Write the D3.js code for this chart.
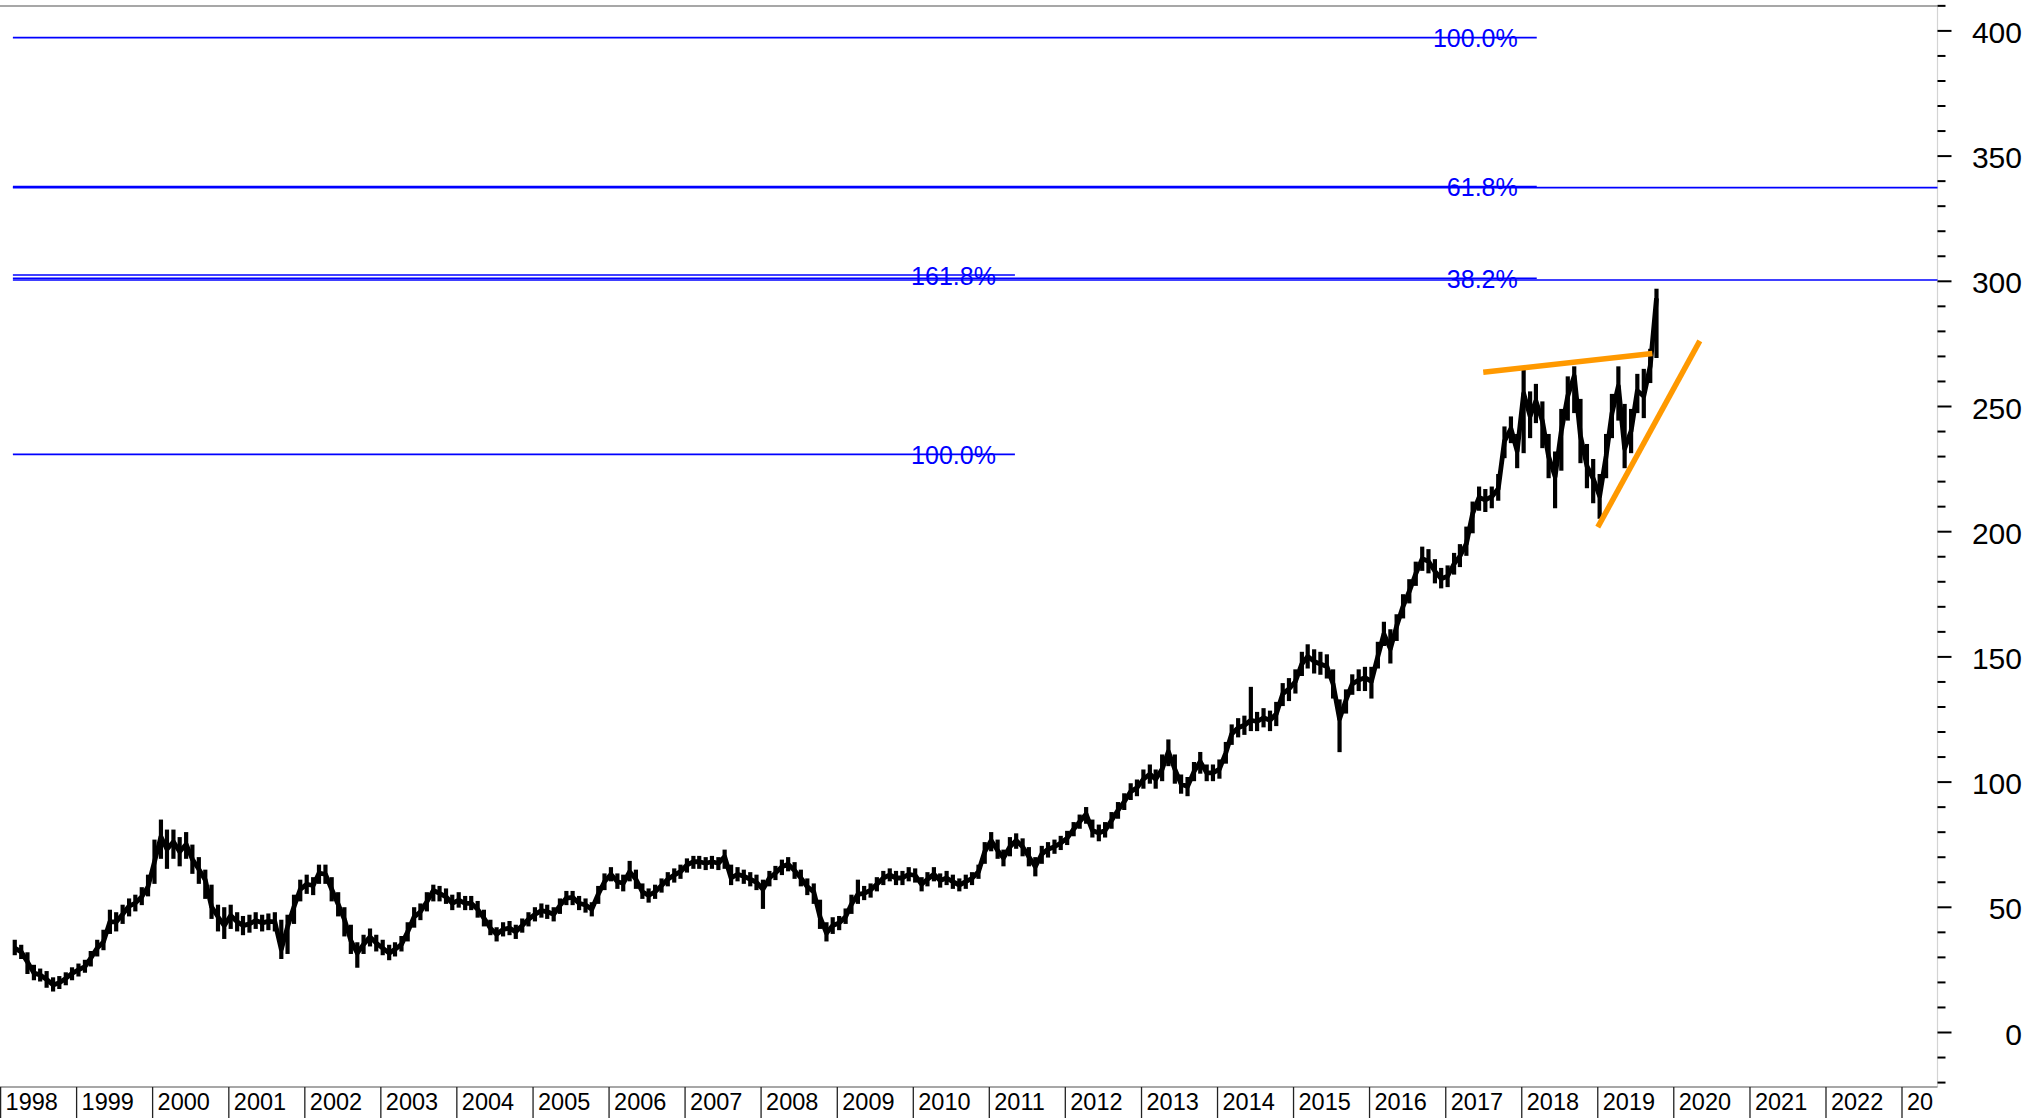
<!DOCTYPE html>
<html>
<head>
<meta charset="utf-8">
<script src="https://cdn.jsdelivr.net/npm/d3@7"></script>
<style>
  html, body { margin: 0; padding: 0; background: #ffffff; }
  svg { display: block; }
  text { font-family: "Liberation Sans", Arial, Helvetica, sans-serif; }
</style>
</head>
<body>
<svg id="chart" width="2042" height="1118"></svg>
<script>
// ---------------- DATA ----------------
const firstMonth = "1998-03";
// monthly close / high / low
const closes = [
  33.5,32,28,23.5,22.8,21,18.8,19.7,21.4,23.4,                    // 1998 Mar-Dec
  24.8,26.1,29.5,33.5,36,44,44,47,50.3,51.5,54,58,                // 1999
  68,78,73,76,72,75,69,65,60.7,50,46,42.5,                        // 2000
  46.5,44,42.5,43.2,44.5,43.6,44.2,44,33,42,50,57,                // 2001
  59,58.5,63.4,63,57,51,45,36.5,31.5,35,38,35.5,                  // 2002
  33.5,31.5,33,35,40,46,48,52,56.5,55.4,54,51.4,                  // 2003
  52.7,51.4,51.4,49,45.5,41.5,39,41,41.5,40,42.5,45,              // 2004
  47,48.5,48,47,50.5,53.5,53.8,51.4,50.7,49,55,60,                // 2005
  63,60,59.4,64,61,56,54.5,56,58.5,61,62.7,64,                    // 2006
  66.7,68,68,67.4,68,67.4,70,61.5,63,62.2,61,59.8,                // 2007
  57,61.5,63.5,66,67,64.5,61.5,58,56,46,39.5,42.5,                // 2008
  43.5,46,51,55,55.4,56.7,59,61.5,62.7,61.5,61.5,63,              // 2009
  62.5,59,61,63,60.5,61.5,60,58.7,60,61.4,64,72,                  // 2010
  76.5,72.5,69.5,74,76.5,74,70,66,71,73,74,75.5,                  // 2011
  77.4,81,84,87,80.5,79.5,80.5,84.5,88.5,92,96,97.5,              // 2012
  101,103,101,105,112,105,99,98,104,108,103.5,103.5,              // 2013
  105,111.5,119,121.5,122.5,124.5,124,125.5,124.5,127,135,137,    // 2014
  140,147,150,148,147,146,139,125,132.6,139,140.6,141.5,          // 2015
  140,150,159,153,162,170,176,183,189,188,184,181,                // 2016
  182,187,190,195,207,213.5,212.5,213.8,217,236,241,232,          // 2017
  255,246,252,244,229.8,221.8,240,254,262,238,226,221,            // 2018
  214,230,247,258,233,240,256,254,266,293                         // 2019 Jan-Oct
];
const highs = [
  36,34,31,26,24.5,23.5,21,21.5,23,25,
  26.5,28,31.5,36,40,48,47,50,52.5,54,57,62,
  76,84,80,80,77,79,74,69,64,58,50,49,
  50,47,45.5,46,47,46,46.5,47,44,46,54,60,
  62,61,66,66,61,55,49,42,35,38,40.5,38,
  36,34,35,37.5,43,49,50.5,55,58,57.5,56.5,54,
  55,53.5,53.5,51.5,48,44,41,43,43.5,42,44.5,47,
  49,50.5,50,49,52.5,55.5,55.5,53.5,52.5,51,57.5,62.5,
  65,62.5,62,67.5,64,58.5,56.5,58,60.5,63,64.5,66,
  68.5,69.5,69.5,69,69.5,69,72,66,65,64,63,62,
  60,63.5,65.5,68,69,67,64,60.5,58.5,52,43,45,
  45.5,48.5,54,60,57.5,58.5,61,63.5,64.5,63.5,63.5,65,
  64.5,61,63,65,62.5,63.5,62,60.5,62,63,66,75,
  79,76,72,77,78.5,76.5,73,69,73.5,75,76,77.5,
  79.5,83,86,89,84,82,83,87,91,94.5,98.5,100,
  104,106,104,110,116,110,102,101,107,111,106,106,
  108,115,122,124.5,125.5,137,127,128.5,127.5,131,138.5,140.5,
  144,151,154,152,151,150,144,132,136,142,144,145,
  145,155,163,160,166,174,180,187,193,192,188,184.5,
  185.5,190.5,194,201,211,217,216,217,222,241,245,238,
  264,255,258,251,238,231,248,261,265,252,234,228,
  222,238,254,265,250,248,262,264,272,296
];
const lows = [
  31.5,30,24,21.5,21,18.5,17,18,19.5,21.5,
  23,24.5,27,31,33.5,40,41,44,47,49,51.5,55,
  60,70,66,70,67,70,64,60,54,46,41,38,
  42,41,39.5,40.5,42,41,41.5,41,30,32,44,53,
  56,55.5,60,60,53,47,39,32,26.5,32,35,33,
  31.5,29.5,31,33,37,42.5,45.5,49,53,53,52,49.5,
  50.5,49.5,49.5,46.5,43,39.5,37,39,39.5,38,40.5,43,
  45,46.5,46,45,48,51.5,51.5,49.5,48.5,47,52,57.5,
  61,58,57,61,58,54,52.5,54,56.5,59,60.5,62,
  64.5,66,66,65.5,66,65.5,66,59.5,61,60,59,57.5,
  50,59,61.5,63.5,65,62,59,55.5,52,42,37,40,
  41.5,44,48,52,53.5,54.5,57,59.5,61,59.5,59.5,61,
  60.5,57,59,61,58.5,59.5,58,57,58,59.5,62,68,
  73,70,67,71,74,71,67,63,68,70.5,72,73.5,
  75.5,79,82,84,78.5,77,78.5,82,86,89.5,93.5,95,
  98,100,98,101,107,100,96,95,101,104,101,101,
  102,108,115.5,118.5,119.5,121,121,122.5,121,123,131,133,
  136,143,146,144,143.5,142,134,112.6,128,135.5,137,137,
  134,146,155,148,157,166,172,179,185,184,180,178,
  178.5,183.5,186.5,191,200,209,208.5,210,213,230,236,226,
  232,238,244,234,222,210,225,245,248,228,218,212,
  205.8,222,238,245,226,232,248,246,260,270
];

// axis ticks
const yearLabels = ["1998","1999","2000","2001","2002","2003","2004","2005","2006","2007","2008","2009",
  "2010","2011","2012","2013","2014","2015","2016","2017","2018","2019","2020","2021","2022","2023"];
const priceTicks = [0,50,100,150,200,250,300,350,400];
const priceMinorTicks = [-20,-10,10,20,30,40,60,70,80,90,110,120,130,140,160,170,180,190,210,220,230,240,
  260,270,280,290,310,320,330,340,360,370,380,390,410];

// Fibonacci levels
const fibStart = "1998-03-01";
const fibValues = [230.7, 302.3, 397.1, 337.6, 301.0, 337.2, 300.3];
const fibLabels = ["100.0%", "161.8%", "100.0%", "61.8%", "38.2%", "", ""];
const fibEnds = ["2011-05-04","2011-05-04","2018-03-14","2018-03-14","2018-03-14","2023-12-31","2023-12-31"];

// orange trend lines
const trendStartDates = ["2017-06-30", "2019-01-01"];
const trendStartValues = [263.5, 201.6];
const trendEndDates = ["2019-09-20", "2020-05-05"];
const trendEndValues = [271.0, 276.0];

// ---------------- LAYOUT ----------------
const W = 2042, H = 1118;
const plotLeft = 0, plotRight = 1937.5, plotTop = 6, plotBottom = 1087;

const svg = d3.select("#chart");
svg.append("rect").attr("width", W).attr("height", H).attr("fill", "#ffffff");

const parse = d3.timeParse("%Y-%m-%d");
const x = d3.scaleTime()
  .domain([new Date(1998, 0, 1), new Date(2023, 0, 1)])
  .range([0.6, 1902]);
const y = d3.scaleLinear().domain([0, 400]).range([1032, 30.4]);

const defs = svg.append("defs");
defs.append("clipPath").attr("id", "plotClip")
  .append("rect").attr("x", plotLeft).attr("y", plotTop)
  .attr("width", plotRight - plotLeft).attr("height", plotBottom - plotTop);
defs.append("clipPath").attr("id", "xClip")
  .append("rect").attr("x", 0).attr("y", plotBottom)
  .attr("width", 1934).attr("height", H - plotBottom);

// frame
svg.append("line").attr("x1", plotLeft).attr("x2", plotRight).attr("y1", plotTop).attr("y2", plotTop)
  .attr("stroke", "#8a8a8a").attr("stroke-width", 1.6);
svg.append("line").attr("x1", plotRight).attr("x2", plotRight).attr("y1", plotTop).attr("y2", plotBottom)
  .attr("stroke", "#d4d4d4").attr("stroke-width", 1.2);
svg.append("line").attr("x1", plotLeft).attr("x2", plotRight).attr("y1", plotBottom).attr("y2", plotBottom)
  .attr("stroke", "#8a8a8a").attr("stroke-width", 1.6);

// ---------------- Y AXIS (right) ----------------
const yAxisG = svg.append("g");
const yMajor = d3.axisRight(y).tickValues(priceTicks).tickSize(14).tickPadding(0).tickFormat("");
const yMinor = d3.axisRight(y).tickValues(priceMinorTicks).tickSize(8).tickFormat("");
yAxisG.append("g").attr("transform", `translate(${plotRight},0)`).call(yMinor)
  .call(g => g.select(".domain").remove())
  .call(g => g.selectAll(".tick line").attr("stroke", "#000").attr("stroke-width", 2));
yAxisG.append("g").attr("transform", `translate(${plotRight},0)`).call(yMajor)
  .call(g => g.select(".domain").remove())
  .call(g => g.selectAll(".tick line").attr("stroke", "#000").attr("stroke-width", 2));
yAxisG.selectAll("text.ylab").data(priceTicks).enter().append("text")
  .attr("class", "ylab")
  .attr("x", 2022).attr("y", d => y(d) + 12.5)
  .attr("text-anchor", "end")
  .attr("font-size", 30).attr("fill", "#000")
  .text(d => d);

// ---------------- X AXIS (bottom) ----------------
const xg = svg.append("g").attr("clip-path", "url(#xClip)");
const yearDates = yearLabels.map(s => new Date(+s, 0, 1));
xg.selectAll("line.xt").data(yearDates).enter().append("line")
  .attr("class", "xt")
  .attr("x1", d => x(d)).attr("x2", d => x(d))
  .attr("y1", plotBottom).attr("y2", H)
  .attr("stroke", "#222").attr("stroke-width", 1.3);
xg.selectAll("text.xl").data(yearLabels).enter().append("text")
  .attr("class", "xl")
  .attr("x", (d, i) => x(yearDates[i]) + 5)
  .attr("y", 1109.5)
  .attr("font-size", 23.5).attr("fill", "#000")
  .text(d => d);

// ---------------- PLOT CONTENT ----------------
const plot = svg.append("g").attr("clip-path", "url(#plotClip)");

// Fibonacci lines
const fstart = parse(fibStart);
const fibG = plot.append("g");
fibValues.forEach((v, i) => {
  const xe = x(parse(fibEnds[i]));
  fibG.append("line")
    .attr("x1", x(fstart)).attr("x2", xe)
    .attr("y1", y(v)).attr("y2", y(v))
    .attr("stroke", "#0000ff").attr("stroke-width", 1.6);
  if (fibLabels[i]) {
    fibG.append("text")
      .attr("x", xe - 19).attr("y", y(v) + 9.5)
      .attr("text-anchor", "end")
      .attr("font-size", 25).attr("fill", "#0000ff")
      .text(fibLabels[i]);
  }
});

// price series
const start = d3.timeParse("%Y-%m")(firstMonth);
const dates = closes.map((_, i) => d3.timeDay.offset(d3.timeMonth.offset(start, i), 9));
const priceG = plot.append("g");
priceG.selectAll("line.bar").data(closes).enter().append("line")
  .attr("class", "bar")
  .attr("x1", (d, i) => x(dates[i])).attr("x2", (d, i) => x(dates[i]))
  .attr("y1", (d, i) => y(lows[i])).attr("y2", (d, i) => y(highs[i]))
  .attr("stroke", "#000").attr("stroke-width", 4.2).attr("stroke-linecap", "square");
const line = d3.line().x((d, i) => x(dates[i])).y(d => y(d));
priceG.append("path").datum(closes)
  .attr("d", line)
  .attr("fill", "none").attr("stroke", "#000")
  .attr("stroke-width", 4.8).attr("stroke-linejoin", "round");

// orange trendlines
trendStartDates.forEach((s, i) => {
  plot.append("line")
    .attr("x1", x(parse(s))).attr("y1", y(trendStartValues[i]))
    .attr("x2", x(parse(trendEndDates[i]))).attr("y2", y(trendEndValues[i]))
    .attr("stroke", "#ff9900").attr("stroke-width", 5.5).attr("stroke-linecap", "butt");
});
</script>
</body>
</html>
